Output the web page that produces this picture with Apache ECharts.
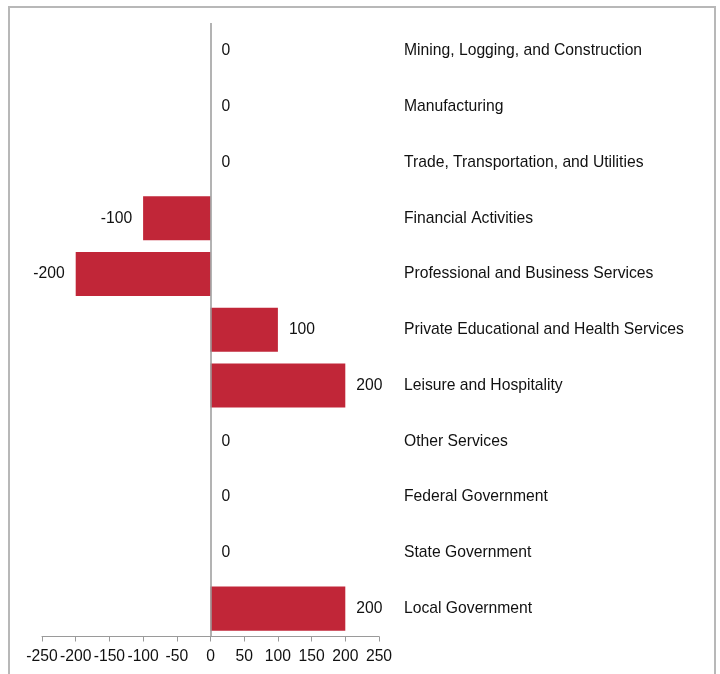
<!DOCTYPE html>
<html>
<head>
<meta charset="utf-8">
<style>
  html, body { margin: 0; padding: 0; background: #fff; }
  #chart { width: 720px; height: 674px; }
</style>
<script src="https://cdn.jsdelivr.net/npm/echarts@6/dist/echarts.min.js"></script>
</head>
<body>
<div id="chart"></div>
<script>
// Employment change by industry (thousands)
const industries = [
  'Mining, Logging, and Construction',
  'Manufacturing',
  'Trade, Transportation, and Utilities',
  'Financial Activities',
  'Professional and Business Services',
  'Private Educational and Health Services',
  'Leisure and Hospitality',
  'Other Services',
  'Federal Government',
  'State Government',
  'Local Government'
];
const changes = [0, 0, 0, -100, -200, 100, 200, 0, 0, 0, 200];
const xTicks = [-250, -200, -150, -100, -50, 0, 50, 100, 150, 200, 250];

const FONT = '"Liberation Sans", Arial, sans-serif';
const TEXT = '#111111';
const FS = 15.7;

const chart = echarts.init(document.getElementById('chart'));

const barData = changes.map(v => ({
  value: v,
  label: { position: v < 0 ? 'left' : 'right' }
}));

chart.setOption({
  animation: false,
  backgroundColor: '#ffffff',
  graphic: [{
    type: 'rect',
    silent: true,
    shape: { x: 9, y: 7, width: 706, height: 720 },
    style: { fill: 'none', stroke: '#b8b8b8', lineWidth: 2 }
  }],
  grid: { left: 42, right: 341, top: 23, bottom: 37.5, containLabel: false },
  xAxis: {
    type: 'value',
    min: xTicks[0],
    max: xTicks[xTicks.length - 1],
    interval: 50,
    axisLine: { show: true, lineStyle: { color: '#9a9a9a', width: 1 } },
    axisTick: { show: true, length: 5, lineStyle: { color: '#9a9a9a' } },
    splitLine: { show: false },
    axisLabel: {
      margin: 12,
      color: TEXT,
      fontFamily: FONT,
      fontSize: FS,
      showMinLabel: true,
      showMaxLabel: true,
      hideOverlap: false
    }
  },
  yAxis: {
    type: 'category',
    data: industries,
    inverse: true,
    position: 'right',
    axisLine: { show: false },
    axisTick: { show: false },
    axisLabel: {
      margin: 25,
      color: TEXT,
      fontFamily: FONT,
      fontSize: FS,
      align: 'left'
    }
  },
  series: [{
    type: 'bar',
    data: barData,
    barCategoryGap: '21%',
    itemStyle: { color: '#c12638' },
    label: {
      show: true,
      distance: 11,
      color: TEXT,
      fontFamily: FONT,
      fontSize: FS,
      formatter: p => String(p.value)
    },
    markLine: {
      silent: true,
      symbol: 'none',
      label: { show: false },
      lineStyle: { color: '#9a9a9a', type: 'solid', width: 1.5 },
      data: [{ xAxis: 0 }]
    }
  }]
});
</script>
</body>
</html>
